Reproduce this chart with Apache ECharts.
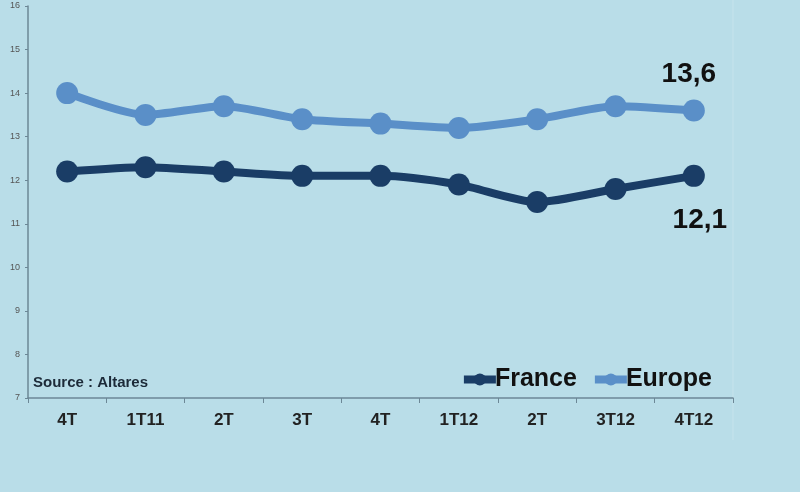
<!DOCTYPE html>
<html>
<head>
<meta charset="utf-8">
<script src="https://cdn.jsdelivr.net/npm/echarts@6/dist/echarts.min.js"></script>
<style>
html,body{margin:0;padding:0;background:#b9dde8;}
#chart{width:800px;height:492px;}
</style>
</head>
<body>
<div id="chart"></div>
<script>
const categories = ['4T','1T11','2T','3T','4T','1T12','2T','3T12','4T12'];
const france = [12.2, 12.3, 12.2, 12.1, 12.1, 11.9, 11.5, 11.8, 12.1];
const europe = [14.0, 13.5, 13.7, 13.4, 13.3, 13.2, 13.4, 13.7, 13.6];
const yMin = 7, yMax = 16, yStep = 1;

const chart = echarts.init(document.getElementById('chart'));
function withLastLabel(arr, offset) {
  return arr.map((v, i) => i === arr.length - 1 ? {
    value: v,
    label: {
      show: true, position: 'top', offset: offset,
      formatter: p => String(p.value).replace('.', ','),
      fontFamily: 'Liberation Sans, Arial, sans-serif', fontWeight: 'bold', fontSize: 28, color: '#111'
    }
  } : v);
}
chart.setOption({
  backgroundColor: '#b9dde8',
  animation: false,
  grid: {left: 28, right: 67, top: 6, bottom: 94},
  xAxis: {
    type: 'category', data: categories, boundaryGap: true,
    axisLine: {lineStyle: {color: '#6c8796', width: 1.5}},
    axisTick: {show: true, interval: 0, length: 5, lineStyle: {color: '#6c8796'}},
    axisLabel: {interval: 0, margin: 14, fontFamily: 'Liberation Sans, Arial, sans-serif', fontWeight: 'bold', fontSize: 17, color: '#222'},
    splitLine: {show: false}
  },
  yAxis: {
    type: 'value', min: yMin, max: yMax, interval: yStep,
    axisLine: {show: true, lineStyle: {color: '#6c8796', width: 1.5}},
    axisTick: {show: true, length: 3, lineStyle: {color: '#6c8796'}},
    axisLabel: {margin: 8, fontFamily: 'Liberation Sans, Arial, sans-serif', fontSize: 9, color: '#555'},
    splitLine: {show: false}
  },
  legend: {
    right: 83, top: 362, itemGap: 14, itemWidth: 32, itemHeight: 15,
    lineStyle: {width: 8},
    textStyle: {fontFamily: 'Liberation Sans, Arial, sans-serif', fontWeight: 'bold', fontSize: 25, color: '#111', padding: [0,0,0,-6]},
    data: ['France', 'Europe']
  },
  graphic: [
    {type: 'text', left: 33, top: 375, style: {text: 'Source : Altares', font: 'bold 15px "Liberation Sans", Arial, sans-serif', fill: '#1c2a38'}},
    {type: 'line', shape: {x1: 733, y1: 0, x2: 733, y2: 440}, style: {stroke: '#c6e3ec', lineWidth: 1}}
  ],
  series: [
    {
      name: 'France', type: 'line', data: withLastLabel(france, [6, 74]), smooth: 0.25,
      symbol: 'circle', symbolSize: 22,
      lineStyle: {width: 8, color: '#1a3d66'}, itemStyle: {color: '#1a3d66'}
    },
    {
      name: 'Europe', type: 'line', data: withLastLabel(europe, [-5, -6]), smooth: 0.25,
      symbol: 'circle', symbolSize: 22,
      lineStyle: {width: 8, color: '#5a8fc8'}, itemStyle: {color: '#5a8fc8'}
    }
  ]
});
</script>
</body>
</html>
